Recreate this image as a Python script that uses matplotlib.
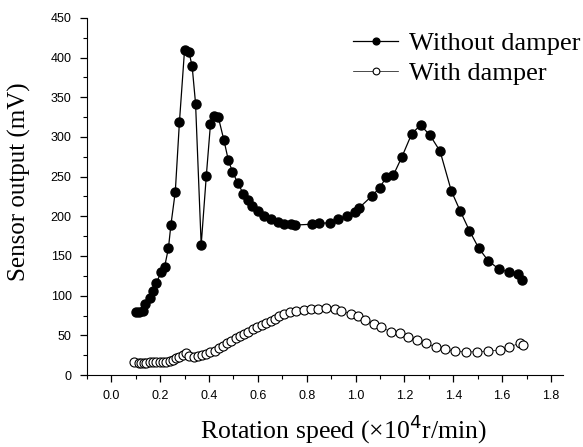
import matplotlib
matplotlib.use("Agg")
import matplotlib.pyplot as plt
from matplotlib.ticker import MultipleLocator

# rotation speed (x1e4 r/min) and sensor output (mV)
speed_without = [0.102, 0.112, 0.129, 0.140, 0.157, 0.170, 0.184, 0.205, 0.218, 0.234,
                 0.244, 0.262, 0.279, 0.300, 0.318, 0.331, 0.345, 0.368, 0.389, 0.406,
                 0.420, 0.438, 0.461, 0.479, 0.496, 0.518, 0.541, 0.560, 0.577, 0.599,
                 0.627, 0.655, 0.682, 0.709, 0.734, 0.753, 0.822, 0.852, 0.897, 0.930,
                 0.964, 0.998, 1.016, 1.068, 1.099, 1.125, 1.155, 1.190, 1.230, 1.266,
                 1.305, 1.346, 1.392, 1.428, 1.466, 1.504, 1.543, 1.589, 1.627, 1.664,
                 1.683]
output_without = [80, 80, 81, 90, 97, 106, 116, 130, 136, 160,
                  189, 231, 319, 410, 407, 389, 342, 164, 251, 316,
                  326, 325, 296, 271, 256, 242, 228, 220, 213, 207,
                  201, 196, 193, 190, 190, 189, 190, 191, 192, 197,
                  200, 206, 211, 226, 236, 249, 252, 275, 304, 315,
                  302, 282, 232, 207, 182, 160, 144, 133, 130, 127,
                  120]

speed_with = [0.095, 0.113, 0.122, 0.132, 0.143, 0.157, 0.170, 0.184, 0.198, 0.211,
              0.225, 0.239, 0.252, 0.266, 0.279, 0.293, 0.304, 0.320, 0.337, 0.354,
              0.372, 0.389, 0.405, 0.423, 0.440, 0.457, 0.473, 0.491, 0.509, 0.525,
              0.543, 0.561, 0.579, 0.597, 0.615, 0.634, 0.652, 0.669, 0.686, 0.706,
              0.730, 0.757, 0.787, 0.818, 0.847, 0.877, 0.915, 0.942, 0.980, 1.011,
              1.040, 1.076, 1.105, 1.144, 1.182, 1.215, 1.253, 1.289, 1.330, 1.367,
              1.409, 1.452, 1.498, 1.544, 1.593, 1.630, 1.674, 1.687]
output_with = [16.4, 14.7, 15, 15.5, 15.5, 16, 16, 16, 16, 16,
               16.5, 17.6, 18.9, 21, 23, 25.2, 27.3, 24, 23, 24,
               25.2, 26.5, 28.6, 30.7, 33.6, 37, 40, 42.8, 46.2, 49.2,
               51.7, 54.6, 57.6, 60.9, 63.4, 65.9, 68.4, 71, 74.4, 76.5,
               79.4, 81, 82, 83.6, 83.2, 84.9, 83.6, 81, 77.3, 74,
               69.7, 64.3, 60.1, 54.6, 52.6, 48.3, 44.1, 40, 34.9, 32.4,
               29.9, 29, 29.4, 30.3, 31.5, 35.7, 40, 38.2]

fig = plt.figure(figsize=(5.83, 4.47), dpi=100)
ax = fig.add_axes([0.149, 0.161, 0.817, 0.799])

ax.plot(speed_without, output_without, "-o", color="black", lw=0.9,
        markersize=6.5, markerfacecolor="black", markeredgecolor="black",
        label="Without damper")
ax.plot(speed_with, output_with, "-o", color="black", lw=0.5,
        markersize=6.5, markerfacecolor="white", markeredgecolor="black",
        markeredgewidth=0.8, label="With damper")

ax.set_xlim(-0.1, 1.85)
ax.set_ylim(0, 450)
ax.xaxis.set_minor_locator(MultipleLocator(0.1))
ax.yaxis.set_major_locator(MultipleLocator(50))
ax.yaxis.set_minor_locator(MultipleLocator(25))
ax.set_xticks([0.0, 0.2, 0.4, 0.6, 0.8, 1.0, 1.2, 1.4, 1.6, 1.8])
ax.set_xticklabels(["0.0", "0.2", "0.4", "0.6", "0.8", "1.0", "1.2", "1.4", "1.6", "1.8"])

for s in ["top", "right"]:
    ax.spines[s].set_visible(False)
ax.tick_params(which="major", direction="out", length=5, width=0.9,
               labelsize=9, pad=6)
ax.tick_params(which="minor", direction="out", length=3, width=0.8)
for lab in ax.get_xticklabels() + ax.get_yticklabels():
    lab.set_fontfamily("Liberation Sans")

ax.set_xlabel("Rotation speed (×10$^4$r/min)", family="Liberation Serif",
              fontsize=18.5)
ax.set_ylabel("Sensor output (mV)", family="Liberation Serif", fontsize=18)
ax.xaxis.set_label_coords(0.538, -0.104)
ax.yaxis.set_label_coords(-0.118, 0.54)

ax.legend(loc="upper right", bbox_to_anchor=(1.036, 0.962), frameon=False,
          borderaxespad=0, borderpad=0,
          prop={"family": "Liberation Serif", "size": 19}, markerscale=0.75,
          handlelength=1.7, handletextpad=0.4, labelspacing=0.25)

fig.savefig("out.png", dpi=100)
